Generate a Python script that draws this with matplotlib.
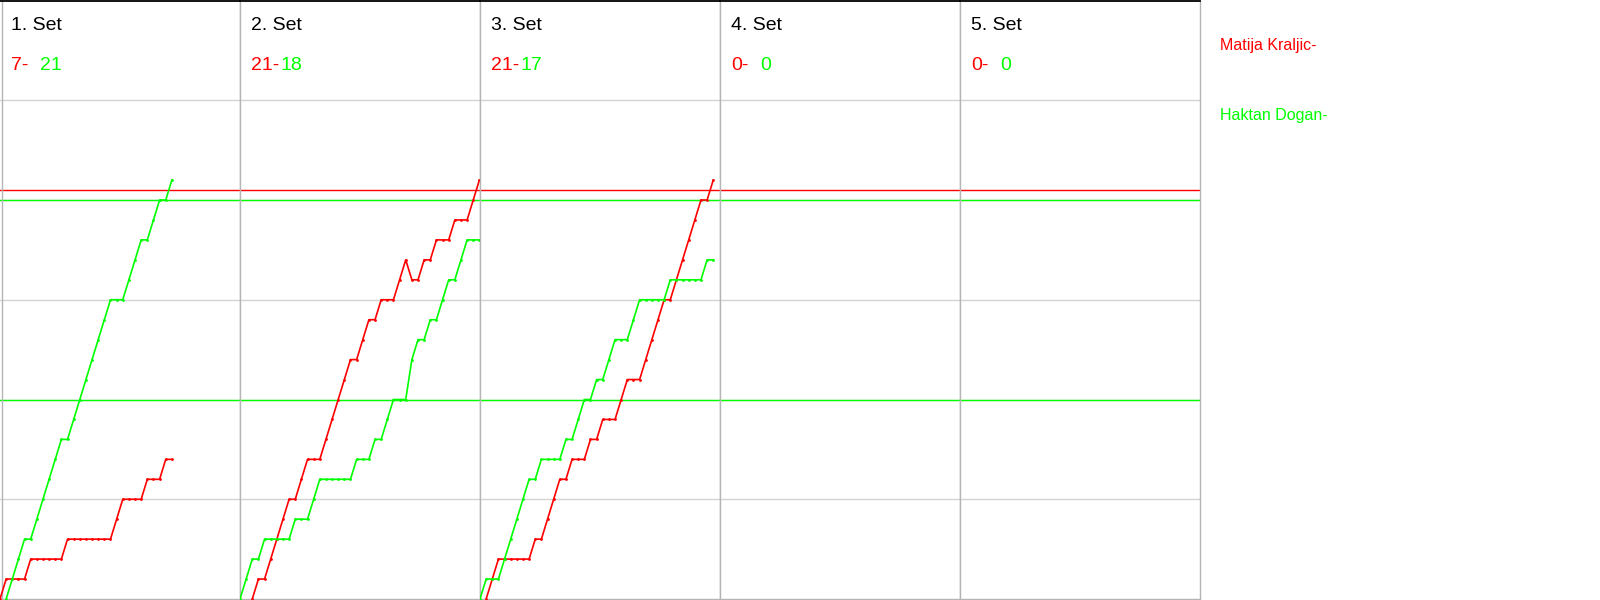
import numpy as np
import matplotlib.pyplot as plt

plt.rcParams['font.family'] = ['Liberation Sans', 'DejaVu Sans']

RED = '#ff0000'
GREEN = '#00ff00'
GRID = '#d3d3d3'
BORDER = '#b4b4b4'

# Spieler und Satzergebnisse
player_red = 'Matija Kraljic'
player_green = 'Haktan Dogan'
set_titles = ['1. Set', '2. Set', '3. Set', '4. Set', '5. Set']
final_red = [7, 21, 21, 0, 0]
final_green = [21, 18, 17, 0, 0]

# Spielstand nach jedem Ballwechsel (None = Linie hat noch nicht begonnen)
set1_red = [0, 1, 1, 1, 1, 2, 2, 2, 2, 2, 2, 3, 3, 3, 3, 3, 3, 3, 3,
            4, 5, 5, 5, 5, 6, 6, 6, 7, 7]
set1_green = [None, 0, 1, 2, 3, 3, 4, 5, 6, 7, 8, 8, 9, 10, 11, 12, 13, 14, 15,
              15, 15, 16, 17, 18, 18, 19, 20, 20, 21]

set2_red = [None, None, 0, 1, 1, 2, 3, 4, 5, 5, 6, 7, 7, 7, 8, 9, 10, 11, 12,
            12, 13, 14, 14, 15, 15, 15, 16, 17, 16, 16, 17, 17, 18, 18, 18,
            19, 19, 19, 20, 21]
set2_green = [0, 1, 2, 2, 3, 3, 3, 3, 3, 4, 4, 4, 5, 6, 6, 6, 6, 6, 6,
              7, 7, 7, 8, 8, 9, 10, 10, 10, 12, 13, 13, 14, 14, 15, 16,
              16, 17, 18, 18, 18]

set3_red = [None, 0, 1, 2, 2, 2, 2, 2, 2, 3, 3, 4, 5, 6, 6, 7, 7, 7, 8,
            8, 9, 9, 9, 10, 11, 11, 11, 12, 13, 14, 15, 15, 16, 17, 18,
            19, 20, 20, 21]
set3_green = [0, 1, 1, 1, 2, 3, 4, 5, 6, 6, 7, 7, 7, 7, 8, 8, 9, 10, 10,
              11, 11, 12, 13, 13, 13, 14, 15, 15, 15, 15, 15, 16, 16, 16, 16,
              16, 16, 17, 17]

red_lines = [set1_red, set2_red, set3_red, [], []]
green_lines = [set1_green, set2_green, set3_green, [], []]

# Markierungslinien
red_marks = [20.5]
green_marks = [10, 20]
grid_scores = [5, 10, 15, 20, 25]

W, H = 1600, 600
PANEL = 240

fig = plt.figure(figsize=(16, 6), dpi=100)

for k in range(5):
    ax = fig.add_axes([k * PANEL / W, 1 / H, PANEL / W, 598.5 / H])
    ax.set_xlim(0, 39.1)
    ax.set_ylim(0, 30)
    ax.set_xticks([])
    ax.set_yticks([])

    for s in grid_scores:
        ax.axhline(s, color=GRID, lw=1, zorder=0)
    for s in red_marks:
        ax.axhline(s, color=RED, lw=1, zorder=1)
    for s in green_marks:
        ax.axhline(s, color=GREEN, lw=1, zorder=1)

    for scores, col in ((red_lines[k], RED), (green_lines[k], GREEN)):
        if scores:
            y = np.array(scores, dtype=float)
            x = np.arange(len(y))
            ax.plot(x, y, color=col, lw=1.2, marker='.', ms=2, zorder=3)

    for side in ['left', 'right', 'bottom']:
        ax.spines[side].set_color(BORDER)
        ax.spines[side].set_linewidth(1)
    ax.spines['top'].set_color('black')
    ax.spines['top'].set_linewidth(1.3)
    if k == 0:
        ax.spines['left'].set_position(('axes', 2 / PANEL))

    ax.text(11 / PANEL, 1 - 29 / 598.5, set_titles[k], transform=ax.transAxes,
            fontsize=14, va='baseline', color='black')
    ax.text(11 / PANEL, 1 - 69 / 598.5, f'{final_red[k]}-', transform=ax.transAxes,
            fontsize=14, va='baseline', color=RED)
    ax.text(40 / PANEL, 1 - 69 / 598.5, f'{final_green[k]}', transform=ax.transAxes,
            fontsize=14, va='baseline', color=GREEN)

fig.text(1220 / W, 1 - 50 / H, player_red + '-', color=RED, fontsize=11.5, va='baseline')
fig.text(1220 / W, 1 - 120 / H, player_green + '-', color=GREEN, fontsize=11.5, va='baseline')

fig.savefig('out.png', dpi=100, facecolor='white')
